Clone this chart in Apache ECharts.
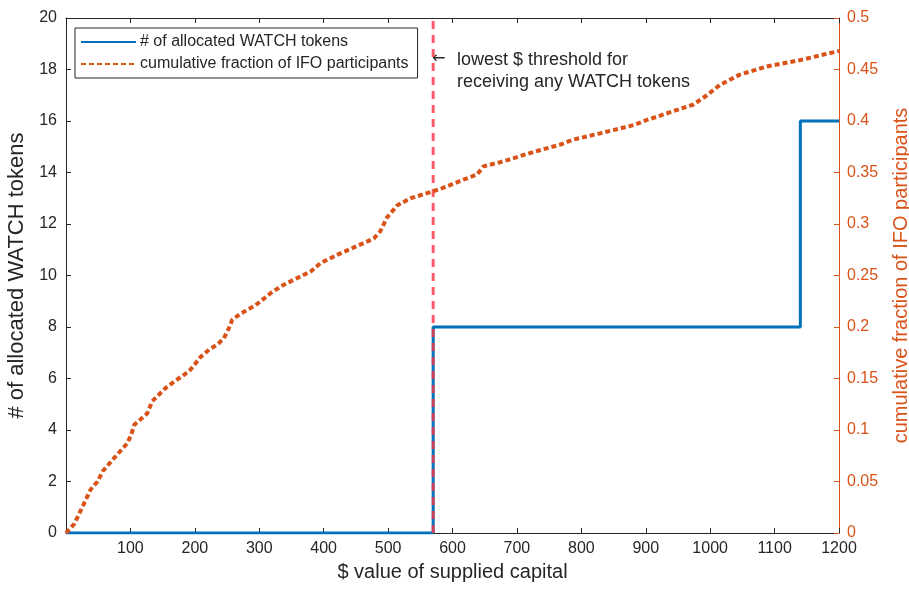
<!DOCTYPE html>
<html lang="en">
<head>
    <meta charset="UTF-8">
    <script type="text/javascript" src="https://cdn.jsdelivr.net/npm/echarts@6/dist/echarts.min.js"></script>
    <title>WATCH tokens</title>
    <style>
        html, body { margin: 0; padding: 0; background: #fff; }
        #chart { width: 909px; height: 592px; }
    </style>
</head>
<body>
<div id="chart"></div>
<script type="text/javascript">
    // $ value of supplied capital vs. # of allocated tokens (step)
    var tokX = [0, 570, 570, 1140, 1140, 1200];
    var tokens = [0, 0, 8, 8, 16, 16];

    // cumulative fraction of IFO participants
    var capX = [0, 13, 26, 38, 49, 57, 75, 95, 101, 106, 126, 134, 155, 168, 191, 199, 209, 222, 235, 245,
        253, 258, 271, 294, 320, 338, 380, 395, 421, 478, 488, 498, 514, 535, 566, 581, 617, 638, 648, 674,
        685, 726, 767, 788, 829, 881, 902, 974, 995, 1015, 1046, 1088, 1139, 1200];
    var frac = [0, 0.009, 0.026, 0.042, 0.05, 0.06, 0.073, 0.087, 0.095, 0.105, 0.116, 0.128, 0.141, 0.147, 0.157, 0.163, 0.171, 0.178, 0.183, 0.189,
        0.199, 0.207, 0.213, 0.221, 0.234, 0.241, 0.254, 0.262, 0.27, 0.286, 0.293, 0.306, 0.318, 0.325, 0.331, 0.334, 0.343, 0.348, 0.356, 0.36,
        0.362, 0.37, 0.377, 0.382, 0.388, 0.396, 0.401, 0.416, 0.425, 0.435, 0.445, 0.453, 0.459, 0.468];

    // lowest $ threshold
    var threshold = 570;
    var thresholdY = [0, 20];

    var font = 'Liberation Sans, Arial, Helvetica, sans-serif';
    var dark = '#262626';
    var blue = '#0072BD';
    var orange = '#D95319';

    function zip(a, b) {
        var out = [];
        for (var i = 0; i < a.length; i++) out.push([a[i], b[i]]);
        return out;
    }

    var chart = echarts.init(document.getElementById('chart'), null, {renderer: 'canvas'});
    chart.setOption({
        animation: false,
        backgroundColor: '#fff',
        textStyle: {fontFamily: font},
        grid: {left: 66, right: 70, top: 18, bottom: 59, containLabel: false, outerBoundsMode: 'none'},
        legend: {
            data: ['# of allocated WATCH tokens', 'cumulative fraction of IFO participants'],
            orient: 'vertical',
            left: 75,
            top: 28,
            itemWidth: 55,
            itemHeight: 14,
            itemGap: 6,
            padding: [6, 9, 6, 5],
            borderColor: dark,
            borderWidth: 1,
            backgroundColor: '#fff',
            itemStyle: {opacity: 0},
            textStyle: {fontFamily: font, fontSize: 16, color: dark, padding: [0, 0, 0, -1]},
            selectedMode: false
        },
        xAxis: [{
            type: 'value',
            min: 0, max: 1200, interval: 100,
            name: '$ value of supplied capital',
            nameLocation: 'middle',
            nameGap: 29,
            nameTextStyle: {fontFamily: font, fontSize: 20, color: dark},
            axisLine: {show: true, onZero: false, lineStyle: {color: dark, width: 1}},
            axisTick: {show: true, inside: true, length: 5, lineStyle: {color: dark}},
            axisLabel: {
                fontFamily: font, fontSize: 16, color: dark, margin: 8,
                formatter: function (v) { return v === 0 ? '' : v; }
            },
            splitLine: {show: false}
        }, {
            type: 'value',
            position: 'top',
            min: 0, max: 1200, interval: 100,
            axisLine: {show: true, onZero: false, lineStyle: {color: dark, width: 1}},
            axisTick: {show: true, inside: true, length: 5, lineStyle: {color: dark}},
            axisLabel: {show: false},
            splitLine: {show: false}
        }],
        yAxis: [{
            type: 'value',
            position: 'left',
            min: 0, max: 20, interval: 2,
            name: '# of allocated WATCH tokens',
            nameLocation: 'middle',
            nameGap: 36,
            nameTextStyle: {fontFamily: font, fontSize: 22, color: dark},
            axisLine: {show: true, onZero: false, lineStyle: {color: dark, width: 1}},
            axisTick: {show: true, inside: true, length: 5, lineStyle: {color: dark}},
            axisLabel: {fontFamily: font, fontSize: 16, color: dark, margin: 9},
            splitLine: {show: false}
        }, {
            type: 'value',
            position: 'right',
            min: 0, max: 0.5, interval: 0.05,
            name: 'cumulative fraction of IFO participants',
            nameLocation: 'middle',
            nameGap: 52,
            nameRotate: 90,
            nameTextStyle: {fontFamily: font, fontSize: 20, color: orange},
            axisLine: {show: true, onZero: false, lineStyle: {color: orange, width: 1}},
            axisTick: {show: true, inside: true, length: 5, lineStyle: {color: orange}},
            axisLabel: {fontFamily: font, fontSize: 16, color: orange, margin: 8},
            splitLine: {show: false}
        }],
        series: [{
            name: '# of allocated WATCH tokens',
            type: 'line',
            xAxisIndex: 0, yAxisIndex: 0,
            data: zip(tokX, tokens),
            symbol: 'none',
            color: blue,
            lineStyle: {color: blue, width: 3}
        }, {
            name: 'threshold',
            type: 'line',
            xAxisIndex: 0, yAxisIndex: 0,
            data: zip([threshold, threshold], thresholdY),
            symbol: 'none',
            color: '#ff3344',
            lineStyle: {color: '#ff3344', width: 3, type: [8, 6], opacity: 0.8}
        }, {
            name: 'cumulative fraction of IFO participants',
            type: 'line',
            xAxisIndex: 0, yAxisIndex: 1,
            data: zip(capX, frac),
            symbol: 'none',
            color: orange,
            lineStyle: {color: orange, width: 4, type: [5, 3]}
        }],
        graphic: [{
            type: 'text',
            left: 432, top: 51,
            style: {text: '\u2190', font: '16px DejaVu Sans, sans-serif', fill: dark}
        }, {
            type: 'text',
            left: 457, top: 49,
            style: {
                text: 'lowest $ threshold for\nreceiving any WATCH tokens',
                font: '18px ' + font,
                lineHeight: 22,
                fill: dark
            }
        }]
    });
</script>
</body>
</html>
